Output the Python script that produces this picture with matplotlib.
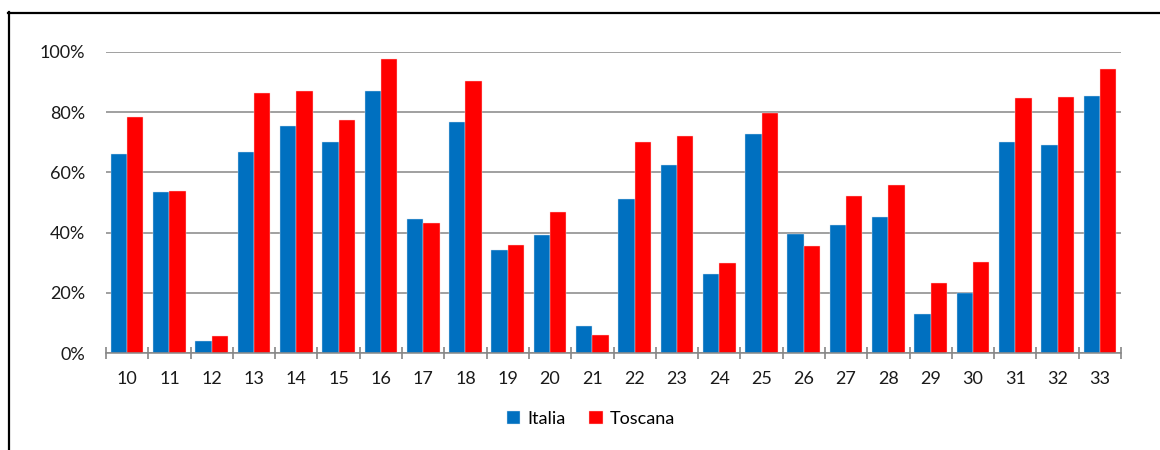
import matplotlib
matplotlib.use("Agg")
import matplotlib.pyplot as plt
import numpy as np
from matplotlib.lines import Line2D
from matplotlib.ticker import FixedLocator, PercentFormatter

categories = [str(c) for c in range(10, 34)]
italia = [66.2, 53.4, 4.0, 66.7, 75.4, 70.1, 87.2, 44.4, 76.8, 34.2, 39.2, 8.9,
          51.1, 62.6, 26.4, 72.8, 39.7, 42.6, 45.2, 13.1, 19.8, 70.1, 69.0, 85.4]
toscana = [78.4, 53.9, 5.6, 86.4, 87.2, 77.4, 97.7, 43.2, 90.3, 35.8, 46.9, 5.9,
           70.2, 72.1, 30.0, 79.7, 35.6, 52.1, 55.9, 23.3, 30.1, 84.8, 84.9, 94.4]
yticks = [0, 20, 40, 60, 80, 100]

plt.rcParams['font.family'] = ['Lato', 'DejaVu Sans']

fig = plt.figure(figsize=(11.6, 4.5), dpi=100)
ax = fig.add_axes([106 / 1160, 1 - 353 / 450, (1121 - 106) / 1160, (353 - 52) / 450])

x = np.arange(len(categories))
w = 0.386
ax.bar(x - w / 2, italia, w, color='#0070C0', edgecolor='#cfe0f0', linewidth=0.3,
       label='Italia', zorder=3)
ax.bar(x + w / 2, toscana, w, color='#FF0000', edgecolor='#ffd0d0', linewidth=0.3,
       label='Toscana', zorder=3)

ax.set_xlim(-0.5, len(categories) - 0.5)
ax.set_ylim(0, 100)

# tick marks sit between the groups, labels in the middle of each group
ax.xaxis.set_major_locator(FixedLocator(np.arange(-0.5, len(categories), 1.0)))
ax.xaxis.set_minor_locator(FixedLocator(x))
ax.xaxis.set_major_formatter(plt.NullFormatter())
ax.set_xticks(x, categories, minor=True)
ax.tick_params(axis='x', which='major', direction='inout', length=8.6, width=1.2,
               color='#868686')
ax.tick_params(axis='x', which='minor', length=0, pad=13, labelsize=13,
               labelcolor='#1a1a1a')

ax.set_yticks(yticks)
ax.yaxis.set_major_formatter(PercentFormatter(decimals=0))
ax.tick_params(axis='y', length=0, pad=15, labelsize=13, labelcolor='#1a1a1a')
ax.grid(axis='y', color='#868686', linewidth=1.1, zorder=0)

for s in ['left', 'right', 'top']:
    ax.spines[s].set_visible(False)
ax.spines['bottom'].set_color('#868686')
ax.spines['bottom'].set_linewidth(1.1)
ax.spines['bottom'].set_zorder(4)

ax.legend(loc='center', bbox_to_anchor=(591 / 1160, 1 - 419 / 450),
          bbox_transform=fig.transFigure, ncol=2, frameon=False, fontsize=13,
          handlelength=0.75, handleheight=0.75, handletextpad=0.4,
          columnspacing=1.3)

# frame lines along the top and left edge
fig.add_artist(Line2D([8 / 1160, 1], [1 - 13 / 450, 1 - 13 / 450],
                      transform=fig.transFigure, color='black', linewidth=1.6))
fig.add_artist(Line2D([9 / 1160, 9 / 1160], [1 - 12 / 450, 0],
                      transform=fig.transFigure, color='black', linewidth=1.6))

fig.savefig('out.png', dpi=100)
